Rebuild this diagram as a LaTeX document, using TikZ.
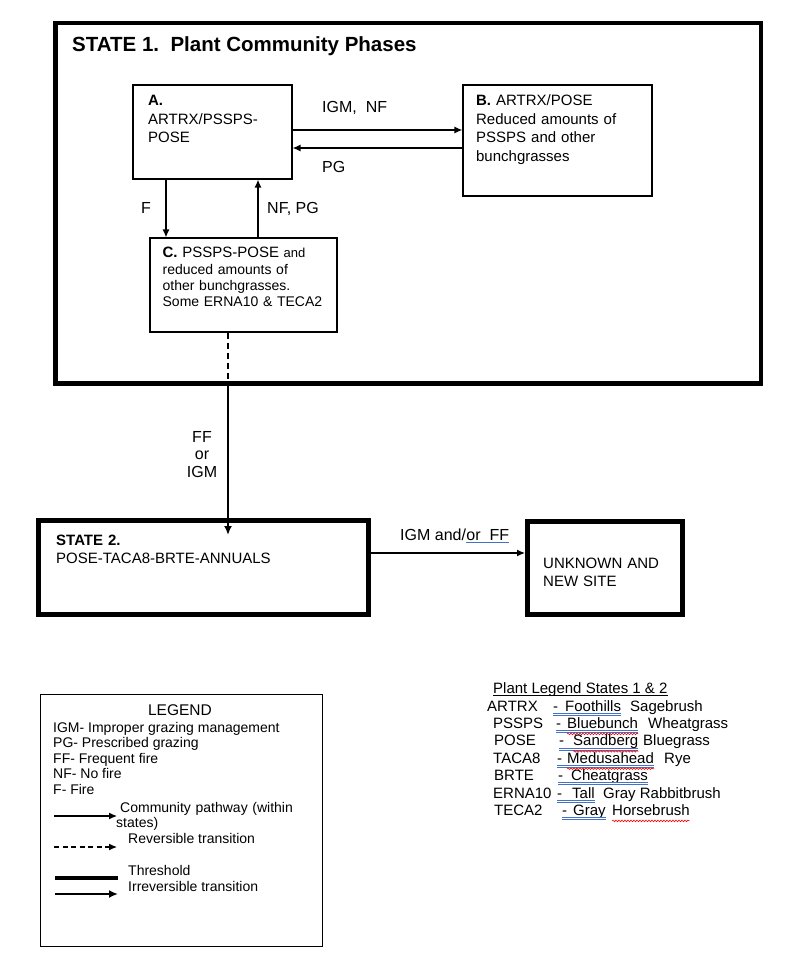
\documentclass[tikz,border=0pt]{standalone}
\usepackage{fontspec}
\setmainfont{Liberation Sans}
\usetikzlibrary{arrows.meta,positioning,decorations.pathmorphing}

\definecolor{wordblue}{RGB}{68,114,196}

\tikzset{
  phase/.style={draw, line width=1.1pt, inner sep=0pt},
  statebox/.style={draw, line width=4.5pt, inner sep=0pt},
  txt/.style={inner sep=0pt, align=left, anchor=base west, font=\fontsize{15}{18.5}\selectfont},
  lbl/.style={inner sep=0pt, anchor=base west, font=\fontsize{16}{18}\selectfont},
  small/.style={inner sep=0pt, align=left, anchor=base west, font=\fontsize{14}{15.6}\selectfont},
  pathway/.style={line width=1.3pt, -{Latex[length=8pt,width=7pt]}},
  threshold/.style={line width=2.6pt, -{Latex[length=9pt,width=8pt]}},
  reversible/.style={line width=1.2pt, dash pattern=on 6pt off 4pt},
  spellblue/.style={draw=wordblue, line width=0.6pt},
  spellred/.style={draw=red, line width=0.6pt, decorate,
    decoration={snake, amplitude=0.8pt, segment length=3pt}}
}

\begin{document}
\begin{tikzpicture}[x=1pt,y=1pt]
\useasboundingbox (0,0) rectangle (800,-964);

% state 1 and its phases
\node[statebox, minimum width=705.5pt, minimum height=360.5pt] (S1) at (408.25,-203.25) {};
\node[lbl, font=\fontsize{20.5}{22}\selectfont\bfseries] (S1 title) at (72,-51) {STATE 1.\ \ Plant Community Phases};

\node[phase, minimum width=159pt, minimum height=94pt] (A) at (212.5,-132) {};
\node[phase, minimum width=189pt, minimum height=111pt] (B) at (557.5,-140.5) {};
\node[phase, minimum width=187pt, minimum height=94pt] (C) at (243.5,-285) {};

\node[txt, text width=140pt] (A text) at ([shift={(15.5pt,-21.5pt)}]A.north west) {\textbf{A.}\\ARTRX/PSSPS-\\POSE};
\node[txt, text width=172pt] (B text) at ([shift={(13.5pt,-21.5pt)}]B.north west) {\textbf{B.} ARTRX/POSE\\Reduced amounts of\\PSSPS and other\\bunchgrasses};
\node[txt, text width=172pt, font=\fontsize{14}{16.3}\selectfont] (C text) at ([shift={(13pt,-20.5pt)}]C.north west)
  {{\fontsize{15}{16.3}\selectfont\textbf{C.} PSSPS-POSE} {\fontsize{13}{16.3}\selectfont and}\\reduced amounts of\\other bunchgrasses.\\Some ERNA10 \& TECA2};

\draw[pathway] ([yshift=2pt]A.east) -- ([yshift=2pt]A.east -| B.west);
\draw[pathway] ([yshift=-16pt]A.east -| B.west) -- ([yshift=-16pt]A.east);
\draw[pathway] ([xshift=-46.5pt]A.south) -- ([xshift=-46.5pt]A.south |- C.north);
\draw[pathway] ([xshift=45.5pt]A.south |- C.north) -- ([xshift=45.5pt]A.south);

\node[lbl] (IGM NF) at (322,-112) {IGM,\ \ NF};
\node[lbl] (PG) at (322,-172) {PG};
\node[lbl] (F) at (141,-213) {F};
\node[lbl] (NF PG) at (267,-213) {NF, PG};

% state 2 and beyond
\node[statebox, line width=5pt, minimum width=330pt, minimum height=94pt] (S2) at (203.5,-567.5) {};
\node[statebox, line width=5pt, minimum width=155pt, minimum height=93pt] (U) at (605,-568) {};
\node[txt, text width=300pt] (S2 text) at ([shift={(20pt,-27pt)}]S2.north west) {\textbf{STATE 2.}\\POSE-TACA8-BRTE-ANNUALS};
\node[txt, text width=140pt] (U text) at ([shift={(18pt,-49pt)}]U.north west) {UNKNOWN AND\\NEW SITE};

\draw[reversible] ([xshift=-15.5pt]C.south) -- ([xshift=-15.5pt]C.south |- S1.south) coordinate (cut);
\draw[threshold] (cut) -- ([yshift=-17pt]cut |- S2.north);
\draw[pathway] ([yshift=14.5pt]S2.east) -- ([yshift=14.5pt]S2.east -| U.west);

\node[lbl, anchor=base, align=center, text width=40pt, font=\fontsize{16}{17.5}\selectfont] (FF IGM) at (202,-442) {FF\\or\\IGM};
\node[lbl] (IGM and) at (400,-540) {IGM and/};
\node[lbl] (or FF) at (IGM and.base east) {or\ \ FF};
\draw[spellblue] ([yshift=-2.5pt]or FF.base west) -- ([yshift=-2.5pt]or FF.base east);

% legend
\node[phase, line width=1pt, minimum width=282pt, minimum height=252pt] (L) at (181,-820) {};
\node[small, anchor=base, font=\fontsize{15.5}{16}\selectfont] (L title) at (180,-715) {LEGEND};
\foreach \txt [count=\i] in {IGM- Improper grazing management, PG- Prescribed grazing, FF- Frequent fire, NF- No fire, F- Fire}
  \node[small] (L\i) at (53,{-716.4-15.6*\i}) {\txt};

\coordinate (k1a) at (54,-816);
\coordinate (k1b) at (117,-816);
\draw[pathway, line width=1.1pt] (k1a) -- (k1b);
\node[small, text width=200pt, font=\fontsize{14}{15}\selectfont] (k1 text) at (120,-812) {Community pathway (within\\\hspace*{-4pt}states)};
\coordinate (k2a) at (54,-847);
\coordinate (k2b) at (117,-847);
\draw[pathway, line width=1.1pt, dash pattern=on 5pt off 3.5pt] (k2a) -- (k2b);
\node[small] (k2 text) at (128,-843) {Reversible transition};
\coordinate (k3a) at (55,-878);
\coordinate (k3b) at (118,-878);
\draw[line width=3.5pt] (k3a) -- (k3b);
\node[small] (k3 text) at (128,-875) {Threshold};
\coordinate (k4a) at (55,-894);
\coordinate (k4b) at (118,-894);
\draw[threshold, line width=2pt] (k4a) -- (k4b);
\node[small] (k4 text) at (128,-891) {Irreversible transition};

% plant legend
\node[txt] (P title) at (493,-693) {Plant Legend States 1 \& 2};
\draw[line width=0.7pt] ([yshift=-2.5pt]P title.base west) -- ([yshift=-2.5pt]P title.base east);
\foreach \code/\cx/\dx/\word/\wx/\rest/\rx/\wv [count=\i] in {
    ARTRX/487/553/Foothills/565/Sagebrush/630/0,
    PSSPS/493/556/Bluebunch/567/Wheatgrass/648/1,
    POSE/494/559/Sandberg/573/Bluegrass/643/1,
    TACA8/493/557/Medusahead/567/Rye/664/1,
    BRTE/494/558/Cheatgrass/571/{}/650/0,
    ERNA10/493/557/Tall/572/Gray Rabbitbrush/603/0,
    TECA2/494/562/Gray/573/Horsebrush/612/2}{
  \node[txt] (code\i) at (\cx,{-693.6-17.4*\i}) {\code};
  \node[txt] (dash\i) at (\dx,{-693.6-17.4*\i}) {-};
  \node[txt] (word\i) at (\wx,{-693.6-17.4*\i}) {\word};
  \node[txt] (rest\i) at (\rx,{-693.6-17.4*\i}) {\rest};
  \draw[spellblue] ([yshift=-2pt]dash\i.base west) -- ([yshift=-2pt]word\i.base east);
  \draw[spellblue] ([yshift=-4pt]dash\i.base west) -- ([yshift=-4pt]word\i.base east);
  \ifnum\wv=1 \draw[spellred] ([yshift=-5.5pt]word\i.base west) -- ([yshift=-5.5pt]word\i.base east); \fi
  \ifnum\wv=2 \draw[spellred] ([yshift=-5.5pt]rest\i.base west) -- ([yshift=-5.5pt]rest\i.base east); \fi
}
\end{tikzpicture}
\end{document}
